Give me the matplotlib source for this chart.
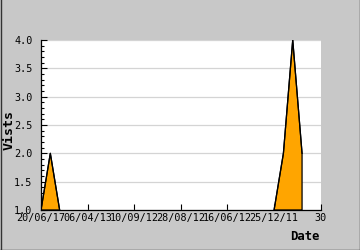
import numpy as np
import matplotlib
matplotlib.use("Agg")
import matplotlib.pyplot as plt
from matplotlib.ticker import MultipleLocator

# Data (index positions along the x axis, NaN = no data)
idx = np.arange(0, 31)
visits = [1, 2, 1] + [np.nan] * 22 + [1, 2, 4, 2] + [np.nan] * 2
visits = np.array(visits, dtype=float)
tick_pos = [0, 5, 10, 15, 20, 25, 30]
tick_labels = ["20/06/17", "06/04/13", "10/09/12", "28/08/12", "16/06/12", "25/12/11", "30"]

fig = plt.figure(figsize=(3.6, 2.5), dpi=100, facecolor="#c8c8c8")
ax = fig.add_axes([41/360, 1-210/250, (320.7-41)/360, 170/250])
ax.set_facecolor("white")

mask = ~np.isnan(visits)
ax.fill_between(idx, 1.0, visits, where=mask, color="#ffa500", edgecolor="black",
                linewidth=0.9, interpolate=False)
ax.plot(idx, visits, color="black", linewidth=0.9)

ax.set_xlim(0, 30)
ax.set_ylim(1.0, 4.0)
ax.set_xticks(tick_pos)
ax.set_xticklabels(tick_labels)
ax.yaxis.set_major_locator(MultipleLocator(0.5))
ax.yaxis.set_minor_locator(MultipleLocator(0.1))
ax.yaxis.set_major_formatter(matplotlib.ticker.FormatStrFormatter("%.1f"))
ax.grid(axis="y", color="#d4d4d4", linewidth=0.9)
ax.set_axisbelow(True)

for s in ["top", "right"]:
    ax.spines[s].set_visible(False)
for s in ["left", "bottom"]:
    ax.spines[s].set_color("black")
    ax.spines[s].set_linewidth(0.9)

mono = "DejaVu Sans Mono"
ax.tick_params(axis="both", direction="in", length=4, width=0.8, colors="black",
               labelsize=7.3)
ax.tick_params(axis="x", pad=2)
ax.tick_params(axis="y", pad=6)
ax.tick_params(axis="y", which="minor", direction="in", length=2.5, width=0.8)
ax.tick_params(axis="x", which="minor", length=0)
for lab in ax.get_xticklabels() + ax.get_yticklabels():
    lab.set_family(mono)

fig.text(9/360, 1-130/250, "Vists", rotation=90, ha="center", va="center",
         family=mono, fontweight="bold", fontsize=9.5)
fig.text(320/360, 1-236/250, "Date", ha="right", va="center",
         family=mono, fontweight="bold", fontsize=8.8)

# Figure border (left, bottom, right)
for xs, ys in [([0.5/360, 0.5/360], [0, 1]), ([0, 1], [0.5/250, 0.5/250]),
               ([359.5/360, 359.5/360], [0, 1])]:
    fig.add_artist(plt.Line2D(xs, ys, color="#333333", linewidth=1.0,
                              transform=fig.transFigure))

fig.savefig("out.png", dpi=100, facecolor=fig.get_facecolor())
